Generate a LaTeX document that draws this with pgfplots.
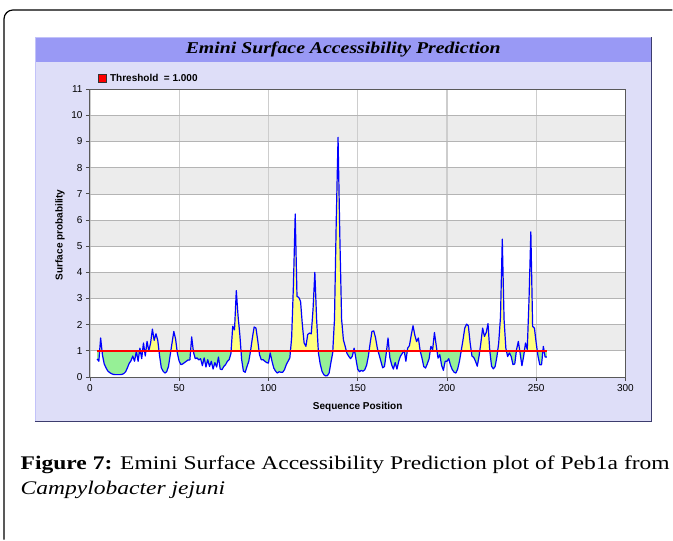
\documentclass[border=0pt]{standalone}
\usepackage{fontspec}
\setmainfont{Liberation Serif}
\newfontfamily\arial{Liberation Sans}
\newfontfamily\capfont[FakeStretch=1.22]{Liberation Serif}
\newfontfamily\titlefont[FakeStretch=1.2]{Liberation Serif}
\usepackage{pgfplots}
\usepackage{pgfplotstable}
\pgfplotsset{compat=1.18}

\definecolor{panelbg}{RGB}{222,222,248}
\definecolor{titlebar}{RGB}{153,153,245}
\definecolor{paneledge}{RGB}{60,60,110}
\definecolor{bandgray}{RGB}{236,236,236}
\definecolor{hgrid}{RGB}{180,180,180}
\definecolor{vgrid}{RGB}{205,205,205}
\definecolor{fillyellow}{RGB}{255,255,128}
\definecolor{fillgreen}{RGB}{150,240,150}

% Emini surface accessibility score per residue
\pgfplotstableread{
pos val
4 0.69
5 0.6
6 1.49
7 0.85
8 0.5
9 0.35
10 0.23
11 0.17
12 0.13
13 0.1
14 0.09
15 0.09
16 0.09
17 0.09
18 0.1
19 0.13
20 0.2
21 0.35
22 0.52
23 0.62
24 0.8
25 0.6
26 0.98
27 0.6
28 1.1
29 0.7
30 1.3
31 0.8
32 1.36
33 1.0
34 1.3
35 1.83
36 1.4
37 1.65
38 1.4
39 0.82
40 0.35
41 0.22
42 0.15
43 0.2
44 0.4
45 0.85
46 1.3
47 1.74
48 1.45
49 0.9
50 0.6
51 0.47
52 0.5
53 0.55
54 0.6
55 0.65
56 0.65
57 1.53
58 0.95
59 0.7
60 0.73
61 0.65
62 0.7
63 0.43
64 0.73
65 0.38
66 0.66
67 0.4
68 0.6
69 0.3
70 0.55
71 0.38
72 0.76
73 0.3
74 0.28
75 0.4
76 0.47
77 0.6
78 0.66
79 0.9
80 1.94
81 1.8
82 3.3
83 2.32
84 1.6
85 0.66
86 0.22
87 0.18
88 0.4
89 0.6
90 1.0
91 1.49
92 1.91
93 1.87
94 1.4
95 0.85
96 0.66
97 0.66
98 0.6
99 0.55
100 0.53
101 0.92
102 0.6
103 0.34
104 0.22
105 0.15
106 0.2
107 0.18
108 0.18
109 0.28
110 0.47
111 0.6
112 0.73
113 1.5
114 3.5
115 6.23
116 3.08
117 3.04
118 2.89
119 2.0
120 1.3
121 1.17
122 1.62
123 1.68
124 1.65
125 2.6
126 4.0
127 2.2
128 0.92
129 0.5
130 0.22
131 0.09
132 0.04
133 0.05
134 0.15
135 0.55
136 0.92
137 2.2
138 6.0
139 9.16
140 5.37
141 2.2
142 1.42
143 1.17
144 0.9
145 0.79
146 0.7
147 0.79
148 1.1
149 0.7
150 0.3
151 0.2
152 0.25
153 0.22
154 0.28
155 0.45
156 0.8
157 1.3
158 1.74
159 1.76
160 1.5
161 1.1
162 0.85
163 0.6
164 0.35
165 0.4
166 0.9
167 1.49
168 0.75
169 0.47
170 0.3
171 0.55
172 0.3
173 0.6
174 0.8
175 0.9
176 1.02
177 0.6
178 1.1
179 1.2
180 1.6
181 1.96
182 1.6
183 1.35
184 1.49
185 1.0
186 0.73
187 0.4
188 0.34
189 0.5
190 0.7
191 1.17
192 1.05
193 1.7
194 1.2
195 0.72
196 0.85
197 0.45
198 0.25
199 0.6
200 0.6
201 0.7
202 0.45
203 0.28
204 0.18
205 0.15
206 0.3
207 0.6
208 1.0
209 1.42
210 1.87
211 2.02
212 1.95
213 1.3
214 0.8
215 0.75
216 0.6
217 0.41
218 0.8
219 1.3
220 1.87
221 1.55
222 1.7
223 2.04
224 1.0
225 0.41
226 0.31
227 0.4
228 0.78
229 1.3
230 2.3
231 5.27
232 2.2
233 1.1
234 0.78
235 0.92
236 0.78
237 0.47
238 0.5
239 1.05
240 1.36
241 0.9
242 0.43
243 0.8
244 1.3
245 1.05
246 3.0
247 5.55
248 1.93
249 1.87
250 1.3
251 0.8
252 0.47
253 0.47
254 1.17
255 0.76
256 0.76
}\eminidata

\pgfplotsset{
  plotbox/.style={anchor=south west, scale only axis, width=536pt, xmin=0, xmax=300},
}

\begin{document}
\begin{tikzpicture}
\begin{scope}[x=1pt,y=1pt]
\path (0,0) rectangle (673,540);

% outer frame of the figure box
\draw[line width=1.2pt, rounded corners=9pt] (673,530) -- (4,530) -- (4,0);

% chart panel and title bar
\fill[panelbg] (35,118) rectangle (652,503);
\fill[titlebar] (35,478) rectangle (652,503);
\draw[line width=0.8pt, color=titlebar!60!white] (35,118) -- (35,503) -- (652,503);
\draw[line width=1.2pt, color=paneledge] (35,118) -- (652,118) -- (652,503);

% plot area with alternating bands
\fill[white] (90,162.7) rectangle (626,450.7);
\foreach \k in {1,3,5,7,9}
  \fill[bandgray] (90,{162.7+26.1818*\k}) rectangle (626,{162.7+26.1818*(\k+1)});
\end{scope}

% axes, grid and tick labels
\begin{axis}[
  plotbox, at={(90pt,162.7pt)}, height=288pt, ymin=0, ymax=11,
  xtick={0,50,...,300}, ytick={0,1,...,11},
  tick pos=left, tick align=outside, major tick length=4pt,
  xmajorgrids, ymajorgrids,
  every axis x grid/.append style={vgrid, line width=1.2pt},
  every axis y grid/.append style={hgrid, line width=0.7pt},
  axis line style={black!65, line width=0.9pt},
  tick style={black!70, line width=0.8pt},
  ticklabel style={font=\arial\fontsize{10}{12}\selectfont},
  /pgf/number format/assume math mode=true,
]
\end{axis}

% area above the threshold: the band from 1 to 11 clips the filled curve
\begin{axis}[plotbox, at={(90pt,188.8818pt)}, height=261.818pt, ymin=1, ymax=11, hide axis]
\addplot[fill=fillyellow, draw=none] table[x=pos, y=val] {\eminidata} \closedcycle;
\end{axis}

% area below the threshold: distance below 1, measured downward from the threshold
\begin{axis}[plotbox, at={(90pt,162.7pt)}, height=26.1818pt, ymin=0, ymax=1, y dir=reverse, hide axis]
\addplot[fill=fillgreen, draw=none] table[x=pos, y expr={1-\thisrow{val}}] {\eminidata} \closedcycle;
\end{axis}

% score curve and threshold line
\begin{axis}[plotbox, at={(90pt,162.7pt)}, height=288pt, ymin=0, ymax=11, hide axis]
\addplot[blue, line width=1.2pt, line join=round] table[x=pos, y=val] {\eminidata};
\addplot[red, line width=2.4pt] coordinates {(4,1) (256,1)};
\end{axis}

\begin{scope}[x=1pt,y=1pt]
% chart title
\node at (343.5,490) {\titlefont\fontsize{16.5}{19}\selectfont\bfseries\itshape Emini Surface Accessibility Prediction};

% legend entry for the threshold
\draw[fill=red, draw=black!80, line width=0.6pt] (98.5,457.5) rectangle (106.5,465.5);
\node[anchor=west, inner sep=0pt] at (110,461.5) {\arial\bfseries\fontsize{10}{12}\selectfont Threshold\ \ = 1.000};

% axis titles
\node[rotate=90] at (60,305) {\arial\bfseries\fontsize{10}{12}\selectfont Surface probability};
\node at (358,133) {\arial\bfseries\fontsize{10}{12}\selectfont Sequence Position};

% caption
\node[anchor=base west, inner sep=0pt] at (20.5,70) {\capfont\fontsize{19.3}{23}\selectfont\textbf{Figure 7:} Emini Surface Accessibility Prediction plot of Peb1a from};
\node[anchor=base west, inner sep=0pt] at (20.5,45) {\capfont\fontsize{19.3}{23}\selectfont\itshape Campylobacter jejuni};
\end{scope}
\end{tikzpicture}
\end{document}
